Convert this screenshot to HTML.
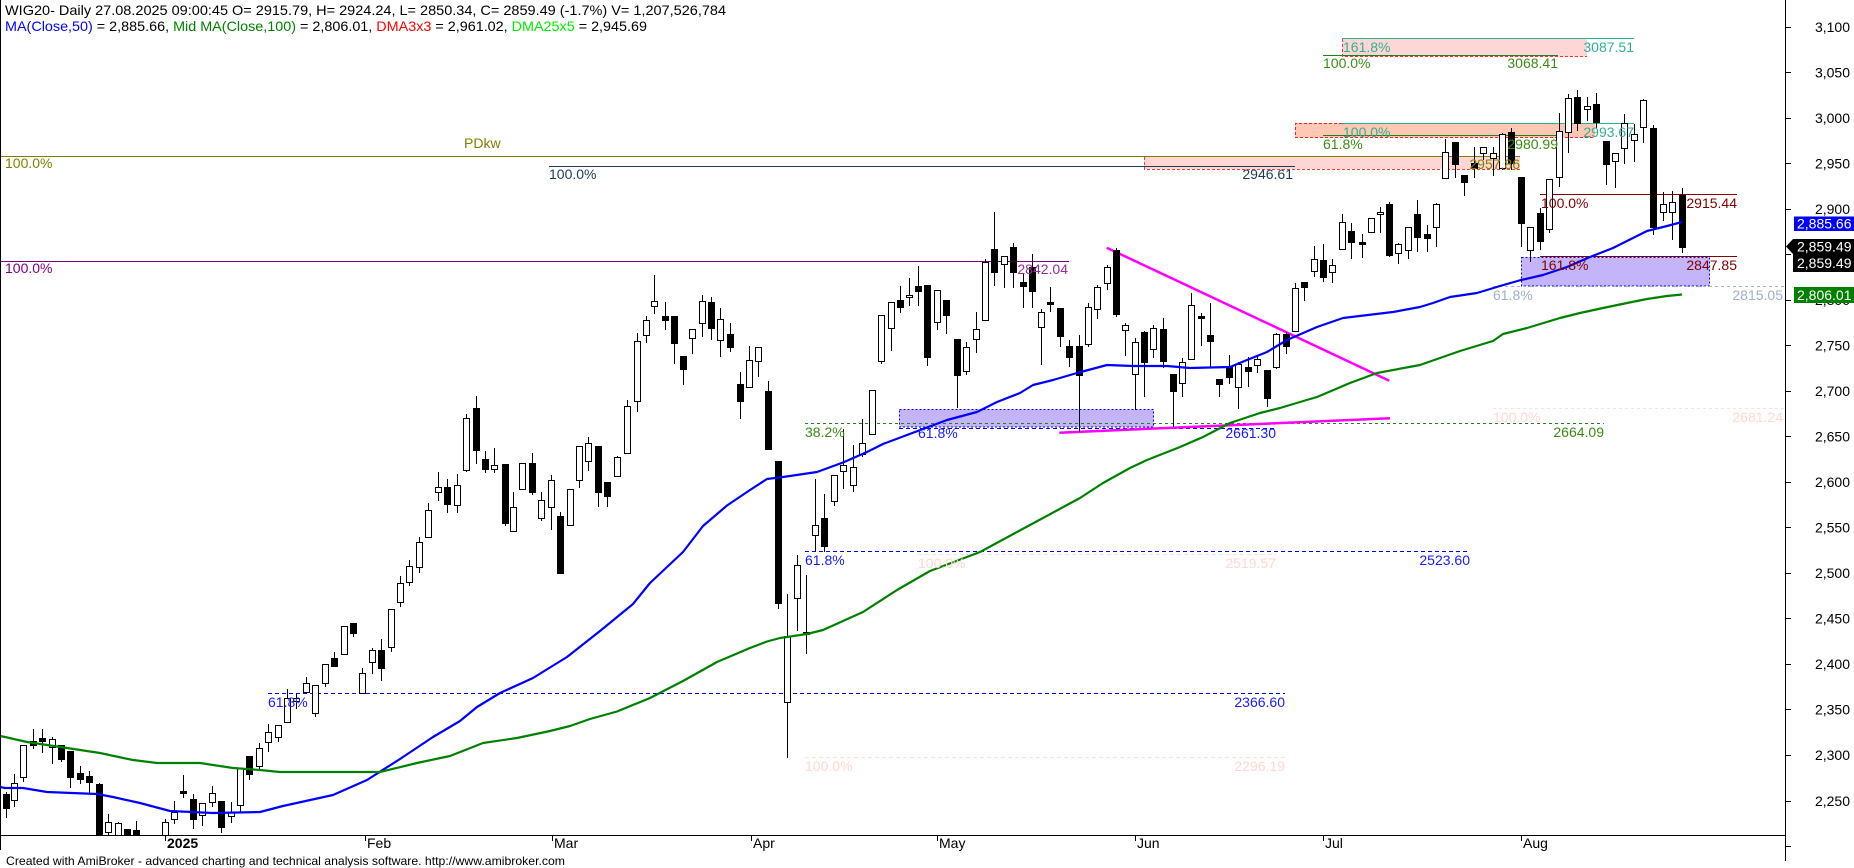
<!DOCTYPE html>
<html><head><meta charset="utf-8"><style>
html,body{margin:0;padding:0;background:#fff;}
svg{display:block;font-family:"Liberation Sans",Arial,sans-serif;}
</style></head><body>
<svg width="1854" height="868" viewBox="0 0 1854 868" xmlns="http://www.w3.org/2000/svg">
<defs><clipPath id="c"><rect x="0" y="0" width="1785" height="835"/></clipPath></defs>
<rect x="0" y="0" width="1854" height="868" fill="#fff"/>
<g clip-path="url(#c)">
<!-- fib fills -->
<rect x="1342" y="39" width="245" height="17.5" fill="#ffd6d6"/>
<rect x="1295" y="123" width="300" height="14.5" fill="#ffc8b4"/>
<rect x="1144" y="157" width="376" height="12" fill="#ffd6d6"/>
<rect x="1521.5" y="257.5" width="188" height="28.5" fill="#c4b4fa" stroke="#0000ff" stroke-dasharray="2,2"/>
<rect x="899.5" y="409.5" width="254" height="17.5" fill="#c4b4fa" stroke="#0000ff" stroke-dasharray="2,2"/>
<g fill="none" stroke-width="1" shape-rendering="crispEdges">
<path d="M1342.5 39V56.5H1587" stroke="#ff3030" stroke-dasharray="3,2"/>
<path d="M1342 38.5H1634" stroke="#20b890"/>
<path d="M1323 55.5H1558" stroke="#208020"/>
<path d="M1342 123.5H1295.5V137.5H1595" stroke="#ff2020" stroke-dasharray="3,2"/>
<path d="M1342 123.5H1634" stroke="#20b890"/>
<path d="M1323 135.5H1558" stroke="#208020"/>
<path d="M1144.5 157V169.5H1520" stroke="#ff4020" stroke-dasharray="3,2"/>
<path d="M0 156.5H1520" stroke="#808000"/>
<path d="M549 166.5H1295" stroke="#1f3c5c"/>
<path d="M0 261.5H1069" stroke="#800080"/>
<path d="M1540 194.5H1737M1540 256.5H1737" stroke="#800000"/>
<path d="M1493 286.5H1785" stroke="#a8b4c8" stroke-dasharray="3,3"/>
<path d="M1493 408.5H1785" stroke="#ffe0d8" stroke-dasharray="3,3"/>
<path d="M805 423.5H1604" stroke="#208020" stroke-dasharray="3,3"/>
<path d="M899 428.5H1276" stroke="#0000ff" stroke-dasharray="4,3"/>
<path d="M805 551.5H1470" stroke="#0000ff" stroke-dasharray="4,3"/>
<path d="M918 554.5H1276" stroke="#ffe0d8" stroke-dasharray="4,3"/>
<path d="M268 693.5H1285" stroke="#0000ff" stroke-dasharray="4,3"/>
<path d="M805 757.5H1285" stroke="#ffe0d8" stroke-dasharray="4,3"/>
</g>
<!-- magenta trendlines -->
<path d="M1106.7 247.7L1389.3 380.7" stroke="#ff00ff" stroke-width="2.5" fill="none"/>
<path d="M1059.3 432.7L1390 418.3" stroke="#ff00ff" stroke-width="2.5" fill="none"/>
<!-- candles -->
<g shape-rendering="crispEdges">
<path stroke="#000" stroke-width="1" fill="none" d="M6.5 792V818M14.5 774V807M23.5 745V782M33.5 729V749M42.5 729V753M52.5 737V764M61.5 745V762M70.5 751V788M80.5 766V784M89.5 771V794M99.5 783V835M108.5 814V835M118.5 822V835M127.5 829V835M136.5 821V835M165.5 819V835M174.5 801V824M183.5 775V798M193.5 794V829M202.5 803V826M212.5 786V807M221.5 801V833M231.5 802V823M240.5 768V813M249.5 756V780M259.5 743V770M268.5 724V752M278.5 725V742M287.5 689V722M296.5 693V709M306.5 677V693M315.5 685V717M325.5 664V687M334.5 652V667M344.5 626V654M353.5 623V637M362.5 668V693M372.5 648V674M381.5 639V681M391.5 609V652M400.5 576V607M409.5 560V586M419.5 537V573M428.5 503V537M438.5 472V501M447.5 479V513M457.5 474V513M466.5 414V472M476.5 396V464M485.5 451V473M494.5 448V473M505.5 464V526M513.5 492V531M522.5 463V489M532.5 453V495M541.5 492V521M551.5 475V530M560.5 512V573M570.5 489V525M579.5 446V488M588.5 437V471M598.5 446V507M607.5 482V507M617.5 456V476M627.5 400V453M637.5 333V412M646.5 316V343M654.5 275V314M665.5 302V330M674.5 316V364M683.5 356V385M692.5 329V354M702.5 295V337M711.5 297V340M720.5 308V357M730.5 323V352M740.5 372V419M749.5 346V387M758.5 347V377M768.5 381V450M778.5 461V609M787.5 594V758M797.5 555V631M806.5 575V654M815.5 479V551M824.5 494V552M834.5 475V506M843.5 429V489M853.5 445V492M862.5 419V457M872.5 390V434M881.5 315V364M891.5 302V351M900.5 286V313M909.5 278V306M918.5 266V306M927.5 285V366M937.5 290V330M946.5 300V334M957.5 339V408M966.5 342V375M976.5 312V353M985.5 259V321M994.5 212V286M1004.5 256V288M1013.5 243V288M1023.5 274V308M1032.5 254V308M1041.5 309V365M1050.5 287V312M1060.5 308V347M1069.5 340V367M1079.5 335V432M1088.5 303V347M1097.5 285V319M1107.5 265V290M1116.5 248V317M1125.5 323V356M1135.5 338V410M1144.5 331V397M1153.5 325V358M1163.5 318V368M1173.5 374V427M1182.5 358V397M1191.5 293V360M1201.5 313V346M1210.5 303V367M1219.5 379V397M1229.5 355V384M1238.5 362V409M1248.5 357V387M1257.5 355V373M1267.5 370V407M1276.5 333V369M1286.5 332V354M1295.5 283V332M1304.5 282V301M1314.5 246V277M1323.5 244V282M1332.5 259V283M1342.5 214V249M1351.5 223V259M1362.5 234V258M1371.5 218V233M1380.5 207V233M1389.5 202V257M1398.5 243V264M1408.5 227V259M1417.5 200V252M1427.5 225V252M1436.5 203V247M1445.5 139V178M1455.5 142V178M1464.5 175V196M1474.5 147V178M1483.5 147V160M1493.5 147V176M1502.5 133V170M1511.5 128V170M1521.5 177V247M1530.5 227V262M1540.5 208V250M1549.5 179V233M1559.5 113V187M1568.5 94V153M1577.5 90V131M1587.5 97V121M1596.5 93V128M1606.5 141V185M1615.5 153V188M1624.5 114V164M1634.5 124V162M1643.5 99V143M1653.5 125V235M1663.5 192V221M1672.5 191V240M1682.5 188V253"/>
<g fill="#fff" stroke="#000" stroke-width="1">
<rect x="11.5" y="783.5" width="6" height="17"/><rect x="20.5" y="745.5" width="6" height="32"/><rect x="49.5" y="739.5" width="6" height="8"/><rect x="105.5" y="822.5" width="6" height="10"/><rect x="115.5" y="823.5" width="6" height="13"/><rect x="162.5" y="822.5" width="6" height="14"/><rect x="171.5" y="812.5" width="6" height="7"/><rect x="199.5" y="803.5" width="6" height="12"/><rect x="209.5" y="793.5" width="6" height="9"/><rect x="228.5" y="812.5" width="6" height="4"/><rect x="237.5" y="768.5" width="6" height="37"/><rect x="256.5" y="748.5" width="6" height="18"/><rect x="265.5" y="732.5" width="6" height="10"/><rect x="275.5" y="725.5" width="6" height="12"/><rect x="284.5" y="698.5" width="6" height="24"/><rect x="293.5" y="698.5" width="6" height="3"/><rect x="303.5" y="683.5" width="6" height="9"/><rect x="312.5" y="685.5" width="6" height="28"/><rect x="322.5" y="664.5" width="6" height="19"/><rect x="341.5" y="626.5" width="6" height="28"/><rect x="359.5" y="673.5" width="6" height="20"/><rect x="369.5" y="650.5" width="6" height="12"/><rect x="388.5" y="609.5" width="6" height="38"/><rect x="397.5" y="583.5" width="6" height="19"/><rect x="406.5" y="566.5" width="6" height="16"/><rect x="416.5" y="542.5" width="6" height="25"/><rect x="425.5" y="510.5" width="6" height="27"/><rect x="435.5" y="487.5" width="6" height="5"/><rect x="454.5" y="485.5" width="6" height="20"/><rect x="463.5" y="418.5" width="6" height="52"/><rect x="491.5" y="465.5" width="6" height="4"/><rect x="510.5" y="507.5" width="6" height="24"/><rect x="519.5" y="463.5" width="6" height="26"/><rect x="538.5" y="500.5" width="6" height="18"/><rect x="548.5" y="480.5" width="6" height="27"/><rect x="567.5" y="489.5" width="6" height="36"/><rect x="576.5" y="446.5" width="6" height="34"/><rect x="585.5" y="443.5" width="6" height="18"/><rect x="614.5" y="457.5" width="6" height="19"/><rect x="624.5" y="406.5" width="6" height="47"/><rect x="634.5" y="341.5" width="6" height="60"/><rect x="643.5" y="320.5" width="6" height="15"/><rect x="651.5" y="301.5" width="6" height="5"/><rect x="689.5" y="329.5" width="6" height="9"/><rect x="699.5" y="301.5" width="6" height="22"/><rect x="717.5" y="319.5" width="6" height="21"/><rect x="746.5" y="360.5" width="6" height="27"/><rect x="755.5" y="347.5" width="6" height="14"/><rect x="784.5" y="636.5" width="6" height="66"/><rect x="794.5" y="565.5" width="6" height="33"/><rect x="812.5" y="525.5" width="6" height="10"/><rect x="831.5" y="475.5" width="6" height="26"/><rect x="840.5" y="465.5" width="6" height="6"/><rect x="850.5" y="467.5" width="6" height="18"/><rect x="859.5" y="443.5" width="6" height="11"/><rect x="869.5" y="390.5" width="6" height="44"/><rect x="878.5" y="315.5" width="6" height="46"/><rect x="888.5" y="302.5" width="6" height="26"/><rect x="906.5" y="295.5" width="6" height="2"/><rect x="934.5" y="290.5" width="6" height="32"/><rect x="963.5" y="347.5" width="6" height="24"/><rect x="973.5" y="329.5" width="6" height="10"/><rect x="982.5" y="262.5" width="6" height="58"/><rect x="1001.5" y="256.5" width="6" height="8"/><rect x="1038.5" y="312.5" width="6" height="15"/><rect x="1085.5" y="307.5" width="6" height="37"/><rect x="1094.5" y="287.5" width="6" height="22"/><rect x="1104.5" y="267.5" width="6" height="16"/><rect x="1122.5" y="325.5" width="6" height="5"/><rect x="1132.5" y="342.5" width="6" height="32"/><rect x="1150.5" y="328.5" width="6" height="21"/><rect x="1179.5" y="362.5" width="6" height="21"/><rect x="1188.5" y="305.5" width="6" height="54"/><rect x="1235.5" y="364.5" width="6" height="23"/><rect x="1254.5" y="359.5" width="6" height="6"/><rect x="1273.5" y="334.5" width="6" height="33"/><rect x="1292.5" y="288.5" width="6" height="43"/><rect x="1311.5" y="259.5" width="6" height="12"/><rect x="1329.5" y="265.5" width="6" height="7"/><rect x="1339.5" y="222.5" width="6" height="27"/><rect x="1368.5" y="218.5" width="6" height="14"/><rect x="1377.5" y="212.5" width="6" height="2"/><rect x="1395.5" y="244.5" width="6" height="9"/><rect x="1405.5" y="227.5" width="6" height="23"/><rect x="1433.5" y="204.5" width="6" height="23"/><rect x="1442.5" y="152.5" width="6" height="26"/><rect x="1480.5" y="147.5" width="6" height="6"/><rect x="1490.5" y="153.5" width="6" height="5"/><rect x="1499.5" y="134.5" width="6" height="34"/><rect x="1527.5" y="227.5" width="6" height="23"/><rect x="1546.5" y="179.5" width="6" height="50"/><rect x="1556.5" y="131.5" width="6" height="46"/><rect x="1565.5" y="98.5" width="6" height="34"/><rect x="1584.5" y="106.5" width="6" height="3"/><rect x="1612.5" y="153.5" width="6" height="8"/><rect x="1621.5" y="123.5" width="6" height="25"/><rect x="1631.5" y="134.5" width="6" height="6"/><rect x="1640.5" y="100.5" width="6" height="27"/><rect x="1660.5" y="204.5" width="6" height="8"/><rect x="1669.5" y="202.5" width="6" height="10"/>
</g>
<g fill="#000" stroke="#000" stroke-width="1">
<rect x="3.5" y="794.5" width="6" height="14"/><rect x="30.5" y="741.5" width="6" height="4"/><rect x="39.5" y="738.5" width="6" height="3"/><rect x="58.5" y="745.5" width="6" height="14"/><rect x="67.5" y="751.5" width="6" height="26"/><rect x="77.5" y="773.5" width="6" height="6"/><rect x="86.5" y="776.5" width="6" height="6"/><rect x="96.5" y="784.5" width="6" height="52"/><rect x="124.5" y="829.5" width="6" height="7"/><rect x="133.5" y="830.5" width="6" height="6"/><rect x="180.5" y="791.5" width="6" height="2"/><rect x="190.5" y="799.5" width="6" height="20"/><rect x="218.5" y="801.5" width="6" height="26"/><rect x="246.5" y="756.5" width="6" height="18"/><rect x="331.5" y="658.5" width="6" height="8"/><rect x="350.5" y="623.5" width="6" height="10"/><rect x="378.5" y="650.5" width="6" height="18"/><rect x="444.5" y="487.5" width="6" height="17"/><rect x="473.5" y="408.5" width="6" height="42"/><rect x="482.5" y="459.5" width="6" height="10"/><rect x="502.5" y="464.5" width="6" height="59"/><rect x="529.5" y="463.5" width="6" height="29"/><rect x="557.5" y="516.5" width="6" height="57"/><rect x="595.5" y="446.5" width="6" height="46"/><rect x="604.5" y="482.5" width="6" height="14"/><rect x="662.5" y="316.5" width="6" height="4"/><rect x="671.5" y="316.5" width="6" height="27"/><rect x="680.5" y="356.5" width="6" height="13"/><rect x="708.5" y="302.5" width="6" height="26"/><rect x="727.5" y="334.5" width="6" height="13"/><rect x="737.5" y="384.5" width="6" height="17"/><rect x="765.5" y="391.5" width="6" height="58"/><rect x="775.5" y="461.5" width="6" height="142"/><rect x="803.5" y="632.5" width="6" height="2"/><rect x="821.5" y="518.5" width="6" height="28"/><rect x="897.5" y="300.5" width="6" height="7"/><rect x="915.5" y="286.5" width="6" height="5"/><rect x="924.5" y="285.5" width="6" height="72"/><rect x="943.5" y="300.5" width="6" height="15"/><rect x="954.5" y="339.5" width="6" height="36"/><rect x="991.5" y="249.5" width="6" height="23"/><rect x="1010.5" y="247.5" width="6" height="25"/><rect x="1020.5" y="282.5" width="6" height="4"/><rect x="1029.5" y="267.5" width="6" height="24"/><rect x="1047.5" y="302.5" width="6" height="2"/><rect x="1057.5" y="308.5" width="6" height="28"/><rect x="1066.5" y="346.5" width="6" height="11"/><rect x="1076.5" y="346.5" width="6" height="29"/><rect x="1113.5" y="250.5" width="6" height="64"/><rect x="1141.5" y="332.5" width="6" height="30"/><rect x="1160.5" y="329.5" width="6" height="32"/><rect x="1170.5" y="374.5" width="6" height="17"/><rect x="1198.5" y="316.5" width="6" height="2"/><rect x="1207.5" y="335.5" width="6" height="6"/><rect x="1216.5" y="379.5" width="6" height="5"/><rect x="1226.5" y="367.5" width="6" height="10"/><rect x="1245.5" y="367.5" width="6" height="4"/><rect x="1264.5" y="370.5" width="6" height="28"/><rect x="1283.5" y="334.5" width="6" height="12"/><rect x="1301.5" y="282.5" width="6" height="5"/><rect x="1320.5" y="260.5" width="6" height="17"/><rect x="1348.5" y="231.5" width="6" height="11"/><rect x="1359.5" y="242.5" width="6" height="2"/><rect x="1386.5" y="204.5" width="6" height="51"/><rect x="1414.5" y="214.5" width="6" height="23"/><rect x="1424.5" y="234.5" width="6" height="4"/><rect x="1452.5" y="142.5" width="6" height="22"/><rect x="1461.5" y="175.5" width="6" height="7"/><rect x="1471.5" y="163.5" width="6" height="5"/><rect x="1508.5" y="132.5" width="6" height="31"/><rect x="1518.5" y="177.5" width="6" height="46"/><rect x="1537.5" y="213.5" width="6" height="28"/><rect x="1574.5" y="97.5" width="6" height="26"/><rect x="1593.5" y="104.5" width="6" height="18"/><rect x="1603.5" y="141.5" width="6" height="23"/><rect x="1650.5" y="128.5" width="6" height="99"/><rect x="1679.5" y="195.5" width="6" height="52"/>
</g>
</g>
<!-- moving averages -->
<polyline fill="none" stroke="#0000ff" stroke-width="2.2" stroke-linejoin="round" points="0,787 5,788 23,788 47,792 97,794 113,797 140,803 170,811 213,813 260,812 283,806 333,795 367,780 400,759 433,737 460,721 477,707 500,693 533,678 567,657 600,631 633,604 650,583 683,552 703,526 727,505.5 750,490 767,479 783,477 817,472 843,462.5 867,452 883,444 907,435 947,420 977,412 997,402 1020,393 1033,385 1053,380 1077,373 1107,365 1133,366 1167,366 1190,368 1230,367 1247,360 1267,352 1287,340 1317,327 1343,318 1393,312 1420,307 1433,303 1450,297 1477,293 1500,286 1521,280 1543,275 1567,267 1590,257 1613,248 1633,238 1647,231 1667,226 1682,222"/>
<polyline fill="none" stroke="#008000" stroke-width="2.2" stroke-linejoin="round" points="0,736 5,737 27,742 67,748 100,753 133,760 157,763 200,763 233,768 260,770 280,772 380,772 417,763 450,756 483,743 517,738 550,731 570,726 590,719 617,711.5 650,698 683,681 717,662 750,648 767,641.5 780,638 807,634 823,630 863,612 897,590 930,571 980,552 1030,525 1080,498 1103,483 1130,468 1147,460 1180,447 1203,437 1230,423 1260,413 1280,408 1300,402 1317,397 1350,383 1377,373 1420,365 1460,351 1493,341 1503,334 1527,328 1560,318 1580,313 1603,308 1627,303 1647,299 1667,296 1682,294.5"/>
</g>
<!-- frame / axes -->
<g stroke="#000" stroke-width="1" shape-rendering="crispEdges" fill="none">
<path d="M0.5 0V850"/>
<path d="M0 835.5H1785.5"/>
<path d="M1785.5 0V861"/>
<path d="M1785 27.5h6M1785 72.5h6M1785 118.5h6M1785 163.5h6M1785 209.5h6M1785 254.5h6M1785 300.5h6M1785 345.5h6M1785 391.5h6M1785 436.5h6M1785 482.5h6M1785 527.5h6M1785 573.5h6M1785 618.5h6M1785 664.5h6M1785 709.5h6M1785 755.5h6M1785 801.5h6M1785 846.5h6"/>
<path d="M165.5 835V841M365.5 835V841M552.5 835V841M751.5 835V841M937.5 835V841M1135.5 835V841M1323.5 835V841M1521.5 835V841"/>
</g>
<!-- axis labels -->
<g font-size="14" fill="#000" text-anchor="end">
<text x="1850" y="32">3,100</text><text x="1850" y="77.5">3,050</text><text x="1850" y="123">3,000</text><text x="1850" y="168.5">2,950</text><text x="1850" y="214">2,900</text><text x="1850" y="259.5">2,850</text><text x="1850" y="305">2,800</text><text x="1850" y="350.5">2,750</text><text x="1850" y="396">2,700</text><text x="1850" y="441.5">2,650</text><text x="1850" y="487">2,600</text><text x="1850" y="532.5">2,550</text><text x="1850" y="578">2,500</text><text x="1850" y="623.5">2,450</text><text x="1850" y="669">2,400</text><text x="1850" y="714.5">2,350</text><text x="1850" y="760">2,300</text><text x="1850" y="806">2,250</text>
</g>
<rect x="1794" y="216.5" width="60" height="14.5" fill="#0000ff"/>
<text x="1797" y="228.5" font-size="14" fill="#fff">2,885.66</text>
<polygon points="1786,246.5 1793,239 1854,239 1854,272 1793,272 1793,254" fill="#000"/>
<text x="1797" y="251.5" font-size="14" fill="#fff">2,859.49</text>
<text x="1797" y="268" font-size="14" fill="#fff">2,859.49</text>
<rect x="1794" y="287" width="60" height="16" fill="#008000"/>
<text x="1797" y="300" font-size="14" fill="#fff">2,806.01</text>
<g font-size="14" fill="#000">
<text x="167" y="848" font-weight="bold">2025</text>
<text x="367" y="848">Feb</text><text x="554" y="848">Mar</text><text x="753" y="848">Apr</text><text x="939" y="848">May</text><text x="1137" y="848">Jun</text><text x="1325" y="848">Jul</text><text x="1523" y="848">Aug</text>
</g>
<text x="6" y="865" font-size="12" fill="#000" textLength="559" lengthAdjust="spacingAndGlyphs">Created with AmiBroker - advanced charting and technical analysis software. http://www.amibroker.com</text>
<!-- header -->
<text x="5" y="15" font-size="14" fill="#000" textLength="721" lengthAdjust="spacingAndGlyphs">WIG20- Daily 27.08.2025 09:00:45 O= 2915.79, H= 2924.24, L= 2850.34, C= 2859.49 (-1.7%) V= 1,207,526,784</text>
<text x="5" y="31" font-size="14" fill="#000" textLength="642" lengthAdjust="spacingAndGlyphs"><tspan fill="#0000ff">MA(Close,50)</tspan> = 2,885.66, <tspan fill="#008000">Mid MA(Close,100)</tspan> = 2,806.01, <tspan fill="#ff0000">DMA3x3</tspan> = 2,961.02, <tspan fill="#00ee00">DMA25x5</tspan> = 2,945.69</text>
<!-- fib labels -->
<g font-size="14">
<text x="5" y="168" fill="#808000">100.0%</text>
<text x="464" y="148" fill="#808000">PDkw</text>
<text x="549" y="179" fill="#1f3c5c">100.0%</text>
<text x="1293" y="179" fill="#1f3c5c" text-anchor="end">2946.61</text>
<text x="5" y="273" fill="#800080">100.0%</text>
<text x="1068" y="274" fill="#9b2a9b" text-anchor="end">2842.04</text>
<text x="1343" y="52" fill="#30b090">161.8%</text>
<text x="1634" y="52" fill="#30b090" text-anchor="end">3087.51</text>
<text x="1323" y="68" fill="#3c8c14">100.0%</text>
<text x="1558" y="68" fill="#3c8c14" text-anchor="end">3068.41</text>
<text x="1343" y="137" fill="#30b090">100.0%</text>
<text x="1634" y="137" fill="#30b090" text-anchor="end">2993.67</text>
<text x="1323" y="149" fill="#3c8c14">61.8%</text>
<text x="1558" y="149" fill="#3c8c14" text-anchor="end">2980.99</text>
<text x="1520" y="169" fill="#808000" text-anchor="end">2957.86</text>
<text x="1541" y="208" fill="#800000">100.0%</text>
<text x="1737" y="208" fill="#800000" text-anchor="end">2915.44</text>
<text x="1541" y="270" fill="#800000">161.8%</text>
<text x="1737" y="270" fill="#800000" text-anchor="end">2847.85</text>
<text x="1493" y="300" fill="#a0b0c8">61.8%</text>
<text x="1783" y="300" fill="#a0b0c8" text-anchor="end">2815.05</text>
<text x="1493" y="422" fill="#ffd8d0">100.0%</text>
<text x="1783" y="422" fill="#ffd8d0" text-anchor="end">2681.24</text>
<text x="805" y="437" fill="#3c8c14">38.2%</text>
<text x="1604" y="437" fill="#3c8c14" text-anchor="end">2664.09</text>
<text x="918" y="438" fill="#1a1aff">61.8%</text>
<text x="1276" y="438" fill="#1a1aff" text-anchor="end">2661.30</text>
<text x="805" y="565" fill="#1a1aff">61.8%</text>
<text x="1470" y="565" fill="#1a1aff" text-anchor="end">2523.60</text>
<text x="918" y="568" fill="#ffd8d0">100.0%</text>
<text x="1276" y="568" fill="#ffd8d0" text-anchor="end">2519.57</text>
<text x="268" y="707" fill="#1a1aff">61.8%</text>
<text x="1285" y="707" fill="#1a1aff" text-anchor="end">2366.60</text>
<text x="805" y="771" fill="#ffd8d0">100.0%</text>
<text x="1285" y="771" fill="#ffd8d0" text-anchor="end">2296.19</text>
</g>
</svg>
</body></html>
